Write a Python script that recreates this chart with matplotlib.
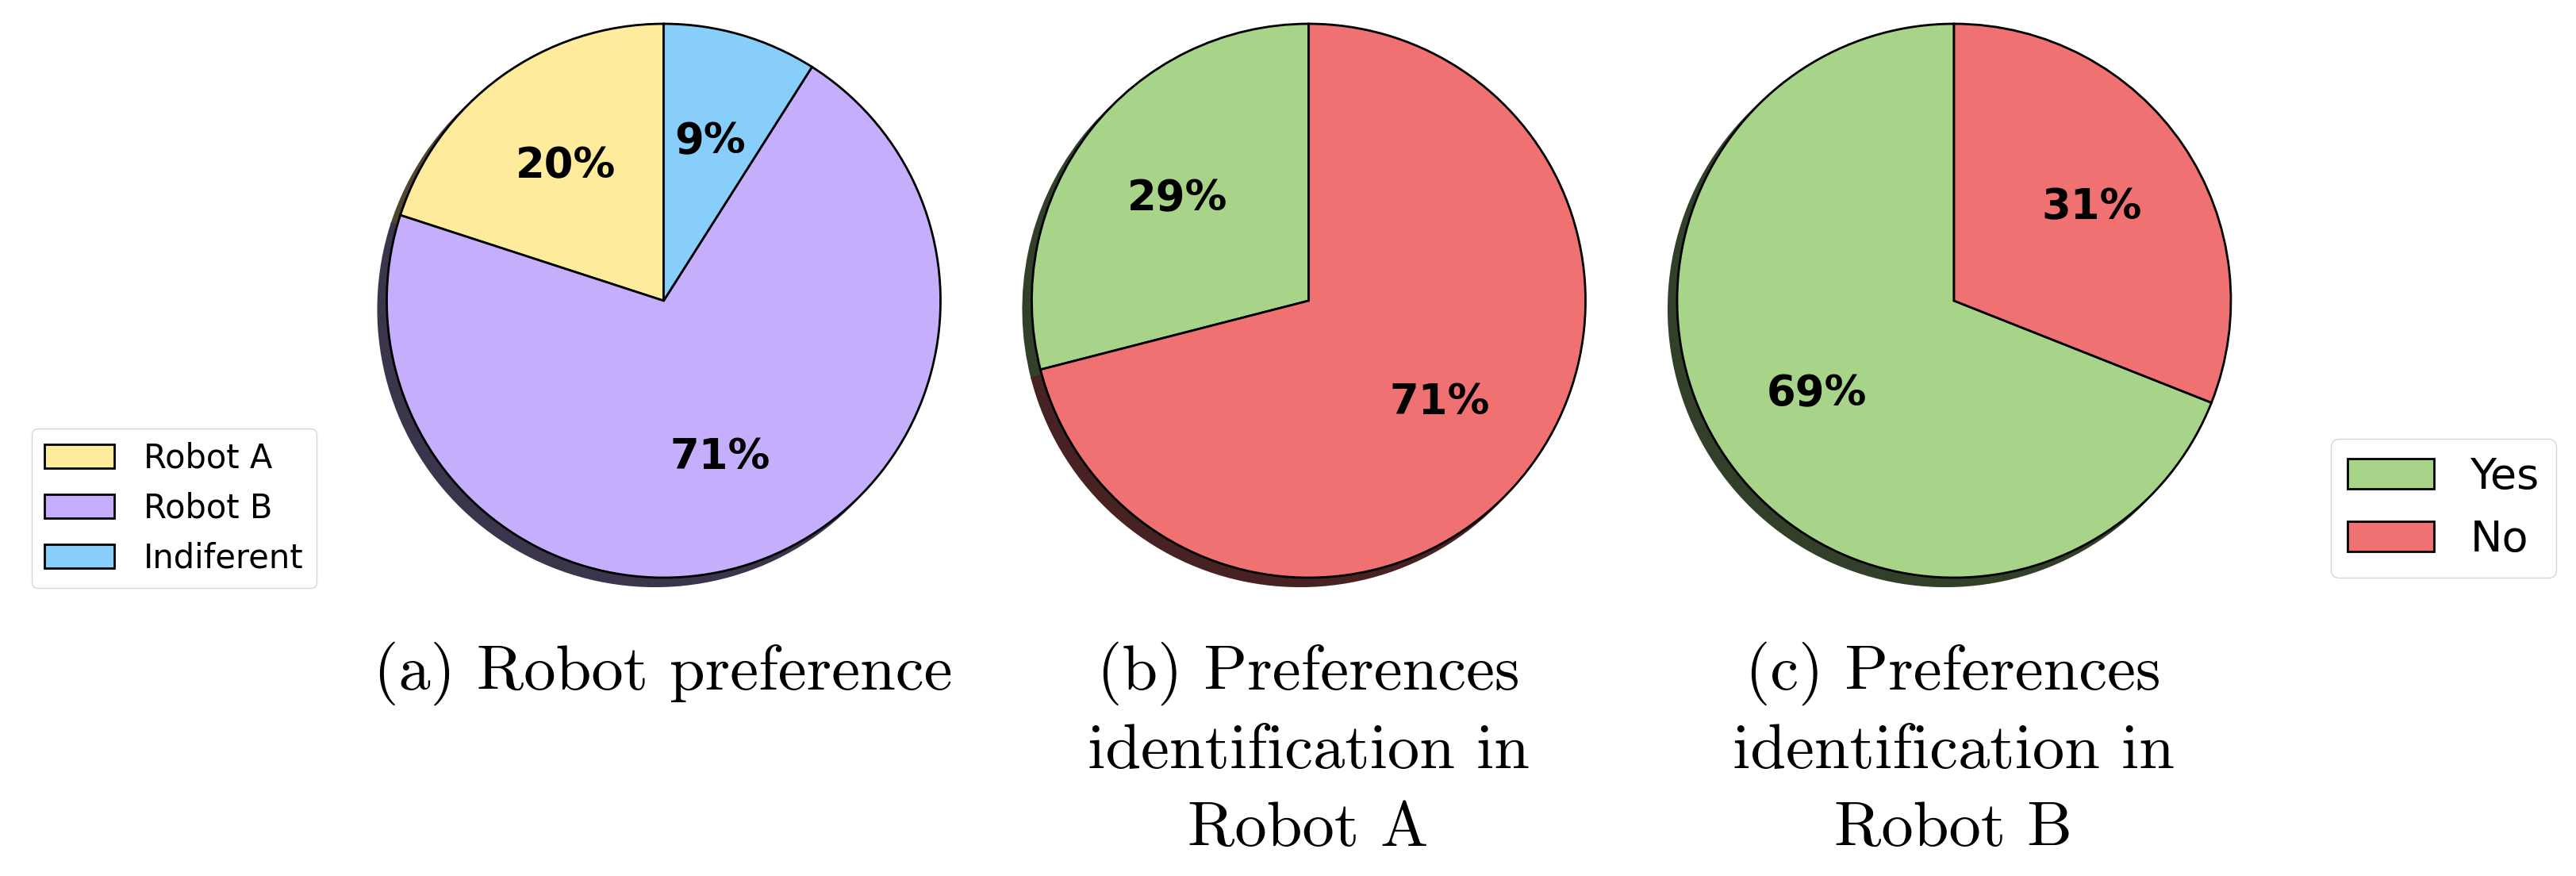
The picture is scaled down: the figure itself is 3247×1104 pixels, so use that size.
import matplotlib
matplotlib.use('Agg')
from matplotlib import pyplot as plt

W, H = 3247, 1104
DPI = 100

# data
pref_labels = ['Robot A', 'Robot B', 'Indiferent']
pref_values = [20, 71, 9]
pref_colors = ['#FFEB9C', '#C5AFFD', '#87CEFA']

yn_labels = ['Yes', 'No']
ident_a_values = [29, 71]
ident_b_values = [69, 31]
yn_colors = ['#A8D48A', '#F07171']

captions = [
    ['(a) Robot preference'],
    ['(b) Preferences', 'identification in', 'Robot A'],
    ['(c) Preferences', 'identification in', 'Robot B'],
]

fig = plt.figure(figsize=(W / DPI, H / DPI), dpi=DPI)

# pie centers / radius in pixels
centers_x = [836.5, 1649.5, 2463]
center_y = 379
r = 349
lim = 1.06


def add_pie(cx, values, colors):
    aw = 2 * lim * r
    ax = fig.add_axes([(cx - aw / 2) / W, (H - center_y - aw / 2) / H, aw / W, aw / H])
    wedges, texts, autotexts = ax.pie(
        values, colors=colors, startangle=90,
        shadow={'ox': -0.022, 'oy': -0.022, 'alpha': 1.0, 'shade': 0.7},
        autopct=lambda p: '{:.0f}%'.format(p), pctdistance=0.6,
        wedgeprops={'edgecolor': 'black', 'linewidth': 2},
        textprops={'fontsize': 38, 'fontweight': 'bold', 'color': 'black'})
    ax.set_xlim(-lim, lim)
    ax.set_ylim(-lim, lim)
    return wedges


w_pref = add_pie(centers_x[0], pref_values, pref_colors)
add_pie(centers_x[1], ident_a_values, yn_colors)
w_yn = add_pie(centers_x[2], ident_b_values, yn_colors)

fig.legend(w_pref, pref_labels, loc='center', bbox_to_anchor=(219.5 / W, 1 - 640.5 / H),
           fontsize=30, handlelength=2.1, handleheight=0.72, handletextpad=0.9)
fig.legend(w_yn, yn_labels, loc='center', bbox_to_anchor=(3080 / W, 1 - 640.5 / H),
           fontsize=39, handlelength=2.0, handleheight=0.72, handletextpad=0.85)

line_y = [849, 948, 1046]
for cx, lines in zip([836, 1649, 2462], captions):
    for i, line in enumerate(lines):
        fig.text(cx / W, 1 - line_y[i] / H, line, ha='center', va='center',
                 fontsize=58, family='cmr10')

fig.savefig('out.png', dpi=DPI)
